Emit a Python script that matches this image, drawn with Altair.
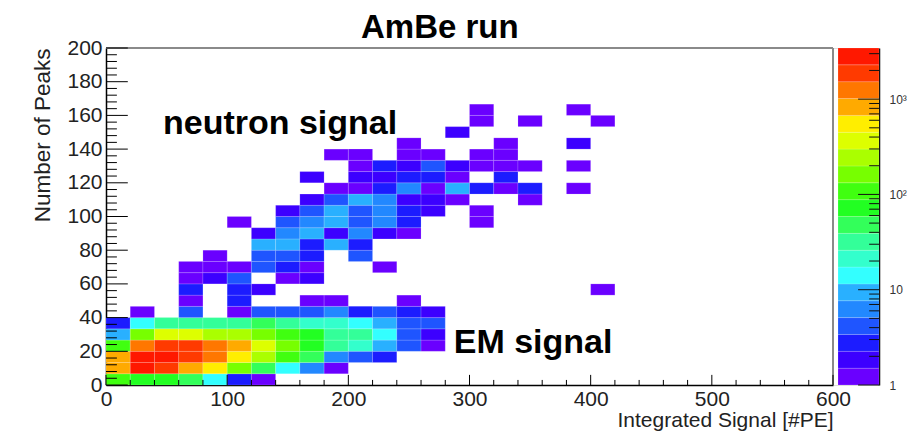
import math
import altair as alt
import pandas as pd

# ---------------- data (counts per bin) ----------------
# x bins: 30 bins of 20 PE from 0 to 600 ; y bins: 30 bins from 0 to 200
x_min, x_max, n_xbins = 0, 600, 30
y_min, y_max, n_ybins = 0, 200, 30

# each row = one y bin (bottom to top), values = counts in x bins from 0 PE upward
row_00 = [115, 80, 75, 45, 14, 3, 1]
row_01 = [900, 2400, 2000, 900, 590, 170, 50, 14, 6, 1]
row_02 = [900, 2900, 2800, 2100, 1350, 600, 260, 110, 48, 6, 4, 3]
row_03 = [120, 1300, 1900, 1800, 1250, 850, 380, 160, 70, 30, 20, 9, 4, 1]
row_04 = [9, 180, 400, 380, 250, 230, 150, 100, 70, 32, 30, 14, 4, 2]
row_05 = [3, 14, 30, 32, 30, 35, 42, 34, 22, 20, 14, 9, 4, 4]
row_06 = [0, 1, 0, 4, 0, 1, 4, 4, 4, 6, 3, 4, 3, 2]
row_07 = [0, 0, 0, 1, 0, 3, 0, 0, 1, 1, 0, 0, 1]
row_08 = [0, 0, 0, 3, 0, 3, 2, 0, 0, 0, 0, 0, 0, 0, 0, 0, 0, 0, 0, 0, 1]
row_09 = [0, 0, 0, 1, 2, 4, 0, 1, 2]
row_10 = [0, 0, 0, 1, 1, 1, 4, 3, 1, 0, 0, 1]
row_11 = [0, 0, 0, 0, 1, 0, 4, 4, 3, 0, 4]
row_12 = [0, 0, 0, 0, 0, 0, 9, 9, 3, 9, 3]
row_13 = [0, 0, 0, 0, 0, 0, 2, 6, 9, 2, 6, 2, 1]
row_14 = [0, 0, 0, 0, 0, 1, 0, 4, 6, 9, 4, 6, 3, 0, 0, 1]
row_15 = [0, 0, 0, 0, 0, 0, 0, 2, 4, 9, 4, 6, 3, 2, 0, 1]
row_16 = [0, 0, 0, 0, 0, 0, 0, 0, 2, 4, 9, 6, 2, 2, 1, 0, 0, 1]
row_17 = [0, 0, 0, 0, 0, 0, 0, 0, 0, 1, 1, 3, 6, 1, 9, 3, 1, 3, 0, 1]
row_18 = [0, 0, 0, 0, 0, 0, 0, 0, 2, 0, 2, 2, 3, 3, 1, 0, 3]
row_19 = [0, 0, 0, 0, 0, 0, 0, 0, 0, 0, 1, 3, 2, 4, 2, 1, 1, 1, 0, 1]
row_20 = [0, 0, 0, 0, 0, 0, 0, 0, 0, 1, 1, 0, 1, 1, 0, 1, 1]
row_21 = [0, 0, 0, 0, 0, 0, 0, 0, 0, 0, 0, 0, 1, 0, 0, 0, 1, 0, 0, 2]
row_22 = [0, 0, 0, 0, 0, 0, 0, 0, 0, 0, 0, 0, 0, 0, 2]
row_23 = [0, 0, 0, 0, 0, 0, 0, 0, 0, 0, 0, 0, 0, 0, 0, 1, 0, 1, 0, 0, 1]
row_24 = [0, 0, 0, 0, 0, 0, 0, 0, 0, 0, 0, 0, 0, 0, 0, 1, 0, 0, 0, 1]

z_max = 3440  # top of colour bar

x_ticks_major = [0, 100, 200, 300, 400, 500, 600]
y_ticks_major = [0, 20, 40, 60, 80, 100, 120, 140, 160, 180, 200]
cb_ticks_major = [1, 10, 100, 1000]

# bold texts: chart title (above the frame) and the two annotations
annot_text = ["AmBe run", "neutron signal", "EM signal"]
annot_align = ["center", "left", "left"]
annot_x = [275.5, 47, 287]
annot_y = [206, 149, 19]

x_title = "Integrated Signal [#PE]"
y_title = "Number of Peaks"

# ---------------- styles ----------------
palette = ["#6a00ff", "#3c00ff", "#1c1cff", "#1f55ff", "#2288ff", "#29b0ff",
           "#33ffff", "#33ffcc", "#33ff99", "#33ff5a", "#22ff22", "#40ff10",
           "#77ff00", "#aaff00", "#ddff00", "#ffee00", "#ffaa00", "#ff7700",
           "#ff3a00", "#ff1800"]
n_levels = len(palette)
step = math.log10(z_max) / n_levels
thresholds = [10 ** (k * step) for k in range(1, n_levels)]

FONT = "Liberation Sans"
W_PLOT = 727
W_ALL = 773
H = 337
BIG = 34
TITLE_SIZE = 33

# ---------------- tables ----------------
rows = [row_00, row_01, row_02, row_03, row_04, row_05, row_06, row_07, row_08,
        row_09, row_10, row_11, row_12, row_13, row_14, row_15, row_16, row_17,
        row_18, row_19, row_20, row_21, row_22, row_23, row_24]
xw = (x_max - x_min) / n_xbins
yh = (y_max - y_min) / n_ybins
recs = []
for j, row in enumerate(rows):
    for i, c in enumerate(row):
        if c > 0:
            recs.append({"x0": x_min + i * xw, "x1": x_min + (i + 1) * xw,
                         "y0": y_min + j * yh, "y1": y_min + (j + 1) * yh, "n": c})
cells = pd.DataFrame(recs)

y_minor = [v for v in range(y_min, y_max + 1, 4) if v not in y_ticks_major]
x_minor = [v for v in range(x_min, x_max + 1, 20) if v not in x_ticks_major]

xs = alt.Scale(domain=[x_min, x_max], range=[0, W_PLOT], nice=False, zero=False)
ys = alt.Scale(domain=[y_min, y_max], nice=False, zero=False)

x_axis = alt.Axis(
    values=x_ticks_major, ticks=False, domainColor="#000000", domainWidth=1.5,
    labelFont=FONT, labelFontSize=21, labelColor="#222222", labelPadding=3,
    labelFlush=False, labelOverlap=False, grid=False,
    title=x_title, titleAnchor="end", titleFont=FONT, titleFontSize=21,
    titleFontWeight="normal", titleColor="#222222", titlePadding=0)
y_axis = alt.Axis(
    values=y_ticks_major, ticks=False, domainColor="#000000", domainWidth=1.5,
    labelFont=FONT, labelFontSize=21, labelColor="#222222", labelPadding=4,
    labelFlush=False, labelOverlap=False, grid=False,
    title=y_title, titleAnchor="end", titleAlign="right", titleY=0, titleFont=FONT,
    titleFontSize=22.5, titleFontWeight="normal", titleColor="#222222", titlePadding=12)

heat = alt.Chart(cells).mark_rect(stroke="#ffffff", strokeWidth=0.5, strokeOpacity=0.3).encode(
    x=alt.X("x0:Q", scale=xs, axis=x_axis),
    x2="x1:Q",
    y=alt.Y("y0:Q", scale=ys, axis=y_axis),
    y2="y1:Q",
    color=alt.Color("n:Q", scale=alt.Scale(type="threshold", domain=thresholds, range=palette),
                    legend=None),
)

frame_df = pd.DataFrame({"fx": [x_min, x_max], "fx2": [x_max, x_max],
                         "fy": [y_max, y_min], "fy2": [y_max, y_max]})
frame = alt.Chart(frame_df).mark_rule(color="#8a8a8a", strokeWidth=2).encode(
    x=alt.X("fx:Q", scale=xs, axis=x_axis), x2="fx2:Q",
    y=alt.Y("fy:Q", scale=ys, axis=y_axis), y2="fy2:Q")

ytm = alt.Chart(pd.DataFrame({"t": y_ticks_major})).mark_rule(color="#000000", strokeWidth=1).encode(
    y=alt.Y("t:Q", scale=ys, axis=y_axis), x=alt.datum(0, scale=xs, axis=x_axis), x2=alt.datum(18))
ytn = alt.Chart(pd.DataFrame({"t": y_minor})).mark_rule(color="#000000", strokeWidth=1).encode(
    y=alt.Y("t:Q", scale=ys, axis=y_axis), x=alt.datum(0, scale=xs, axis=x_axis), x2=alt.datum(9))
xtm = alt.Chart(pd.DataFrame({"t": x_ticks_major})).mark_rule(color="#000000", strokeWidth=1).encode(
    x=alt.X("t:Q", scale=xs, axis=x_axis), y=alt.datum(0, scale=ys, axis=y_axis), y2=alt.datum(6))
xtn = alt.Chart(pd.DataFrame({"t": x_minor})).mark_rule(color="#000000", strokeWidth=1).encode(
    x=alt.X("t:Q", scale=xs, axis=x_axis), y=alt.datum(0, scale=ys, axis=y_axis), y2=alt.datum(3))

annot_df = pd.DataFrame({"ax": annot_x, "ay": annot_y, "txt": annot_text, "al": annot_align})
annot_left = alt.Chart(annot_df[annot_df["al"] == "left"]).mark_text(
    align="left", baseline="alphabetic", font=FONT, fontSize=BIG, fontWeight="bold", color="#000000"
).encode(x=alt.X("ax:Q", scale=xs, axis=x_axis), y=alt.Y("ay:Q", scale=ys, axis=y_axis), text="txt:N")
annot_center = alt.Chart(annot_df[annot_df["al"] == "center"]).mark_text(
    align="center", baseline="alphabetic", font=FONT, fontSize=TITLE_SIZE, fontWeight="bold", color="#000000"
).encode(x=alt.X("ax:Q", scale=xs, axis=x_axis), y=alt.Y("ay:Q", scale=ys, axis=y_axis), text="txt:N")

main = alt.layer(heat, frame, ytn, ytm, xtn, xtm, annot_left, annot_center)

# ---------------- colour bar ----------------
band_lo = [10 ** (k * step) for k in range(n_levels)]
band_hi = [10 ** ((k + 1) * step) for k in range(n_levels)]
bands = pd.DataFrame({"lo": band_lo, "hi": band_hi, "col": palette})
cs = alt.Scale(type="log", domain=[1, z_max], nice=False)
cxs = alt.Scale(domain=[0, 1], range=[W_PLOT + 5, W_ALL], nice=False, zero=False)

cb_axis = alt.Axis(
    orient="right", values=cb_ticks_major, ticks=False, grid=False,
    domainColor="#000000", domainWidth=1.5,
    labelExpr="datum.value < 2 ? '1' : datum.value < 20 ? '10' : datum.value < 200 ? '10²' : '10³'",
    labelFont=FONT, labelFontSize=12, labelColor="#333333", labelPadding=10,
    labelFlush=False, labelOverlap=False, title=None)

cb = alt.Chart(bands).mark_rect(stroke="#ffffff", strokeWidth=0.5, strokeOpacity=0.3).encode(
    x=alt.datum(0, scale=cxs, axis=None),
    x2=alt.datum(1),
    y=alt.Y("lo:Q", scale=cs, axis=cb_axis),
    y2="hi:Q",
    color=alt.Color("col:N", scale=None),
)

cb_minor = [m * d for d in cb_ticks_major for m in range(2, 10) if m * d <= z_max]
cbt_m = alt.Chart(pd.DataFrame({"t": cb_ticks_major})).mark_rule(color="#111111", strokeWidth=1).encode(
    y=alt.Y("t:Q", scale=cs, axis=cb_axis), x=alt.datum(1, scale=cxs, axis=None), x2=alt.datum(0.49))
cbt_n = alt.Chart(pd.DataFrame({"t": cb_minor})).mark_rule(color="#111111", strokeWidth=1).encode(
    y=alt.Y("t:Q", scale=cs, axis=cb_axis), x=alt.datum(1, scale=cxs, axis=None), x2=alt.datum(0.76))

colorbar = alt.layer(cb, cbt_n, cbt_m)

chart = alt.layer(main, colorbar).resolve_scale(
    x="independent", y="independent", color="independent"
).properties(
    width=W_ALL, height=H,
    autosize=alt.AutoSizeParams(type="none"),
    padding={"left": 98, "top": 40, "right": 37, "bottom": 49},
).configure_view(stroke=None).configure(background="#ffffff")

chart.save("out.html", embed_options={"renderer": "svg", "actions": False})
